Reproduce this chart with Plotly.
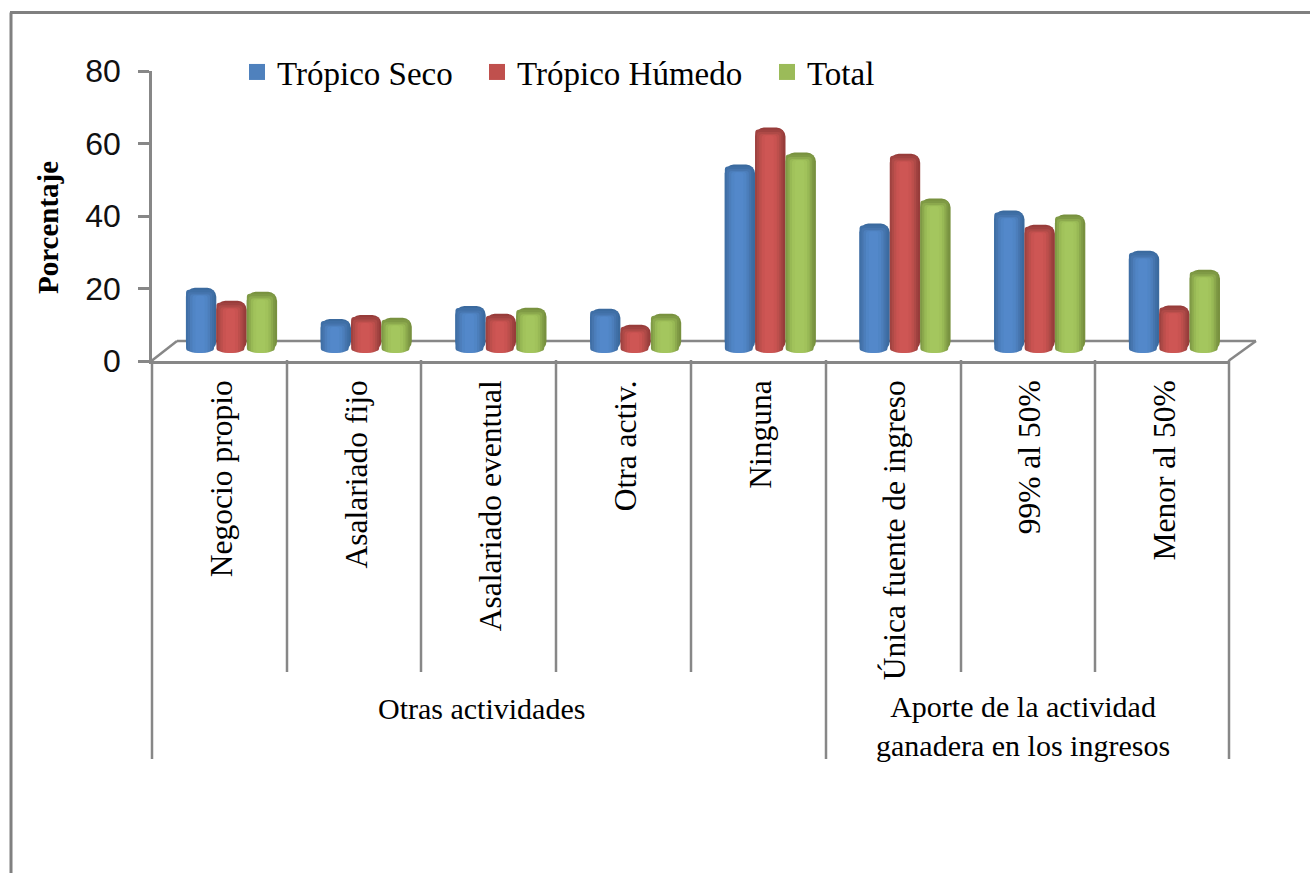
import plotly.graph_objects as go

categories = ["Negocio propio", "Asalariado fijo", "Asalariado eventual", "Otra activ.",
              "Ninguna", "Única fuente de ingreso", "99% al 50%", "Menor al 50%"]
tropico_seco = [18.0, 9.4, 13.0, 12.2, 52.0, 35.7, 39.3, 28.2]
tropico_humedo = [14.4, 10.5, 10.8, 7.8, 62.2, 55.0, 35.4, 13.1]
total = [16.9, 9.7, 12.5, 10.8, 55.3, 42.6, 38.2, 23.0]
group_labels = ["Otras actividades", "Aporte de la actividad<br>ganadera en los ingresos"]
y_ticks = [0, 20, 40, 60, 80]

W, H = 1310, 873
L, R, T, B = 152, 1229, 71, 361
PXU = (B - T) / 80
def px(x): return (x - L) / (R - L)
def py(y): return (B - y) / (B - T)

SERIF = "Liberation Serif"
GRAY = "#878787"

series = [
    ("Trópico Seco", tropico_seco, ["#3B6A9E", "#3F6FA6", "#4675AE", "#4C7EBB", "#5085C5", "#5388CA"], "#4F81BD", 237),
    ("Trópico Húmedo", tropico_humedo, ["#973C3A", "#A04240", "#AE4A47", "#BD4F4C", "#C95351", "#CE5654"], "#C0504D", 477),
    ("Total", total, ["#78913F", "#7F9A45", "#8CA94D", "#98B955", "#A1C25B", "#A4C65E"], "#9BBB59", 767),
]
# cylinder shading: width fraction, cap inset px, base lift px
layers = [(1.00, 0.0, 2.5), (0.92, 2.0, 2.0), (0.80, 4.5, 1.2), (0.66, 6.5, 0.6), (0.50, 7.5, 0.2), (0.30, 8.0, 0.0)]

BASE_PX = 353
SPACING = 134.7
BAR_PX = 30.4
X0 = 231.5
bw = BAR_PX / SPACING

fig = go.Figure()
# invisible trace that carries the visible category and value axes
fig.add_trace(go.Scatter(x=categories, y=[0] * 8, mode="markers", marker=dict(opacity=0),
                         showlegend=False, hoverinfo="skip", xaxis="x", yaxis="y"))

idx = list(range(8))
legends = {}
for s, (name, vals, cols, legcol, legx) in enumerate(series):
    for k, (wf, cap, lift) in enumerate(layers):
        w = bw * wf
        cap_u, lift_u = cap / PXU, lift / PXU
        fig.add_trace(go.Bar(
            x=idx,
            y=[v - cap_u - lift_u for v in vals],
            base=[lift_u] * 8,
            width=[w] * 8,
            offset=[(s - 1.5) * bw + (bw - w) / 2 - 0.008 * (k > 0)] * 8,
            marker=dict(color=cols[k], line=dict(width=0), cornerradius=9 if k == 0 else 3),
            name=name,
            legendgroup=name,
            showlegend=False,
            xaxis="x2", yaxis="y2",
        ))
    lname = "legend" if s == 0 else f"legend{s + 1}"
    fig.add_trace(go.Scatter(x=[None], y=[None], mode="markers", name=name, legendgroup=name, legend=lname,
                             marker=dict(color=legcol, symbol="square", size=16), xaxis="x2", yaxis="y2"))
    legends[lname] = dict(orientation="h", x=px(legx), y=py(72), xanchor="left", yanchor="middle",
                          font=dict(family=SERIF, size=33, color="#000"), bgcolor="rgba(0,0,0,0)",
                          itemwidth=30, itemsizing="trace")

shapes = []
def line(x0, y0, x1, y1, color=GRAY, width=2.5):
    shapes.append(dict(type="line", xref="paper", yref="paper", x0=px(x0), y0=py(y0), x1=px(x1), y1=py(y1),
                       line=dict(color=color, width=width), layer="below"))
line(11, 873, 11, 12.5, "#808080", 3)
line(10, 12.5, 1310, 12.5, "#808080", 3)
line(152, 360.5, 177, 341)
line(177, 341, 1256, 341)
line(1256, 341, 1229, 360.5)
for x in [152, 826, 1229]:
    line(x, 360, x, 759)
for x in [287, 421, 556, 691, 961, 1095]:
    line(x, 360, x, 672)

annotations = [
    dict(text="<b>Porcentaje</b>", xref="paper", yref="paper", x=px(48), y=py(228), textangle=-90, showarrow=False,
         font=dict(family=SERIF, size=29, color="#000"), xanchor="center", yanchor="middle"),
    dict(text=group_labels[0], xref="paper", yref="paper", x=px(481), y=py(708), showarrow=False,
         font=dict(family=SERIF, size=30, color="#000"), xanchor="center", yanchor="middle"),
    dict(text=group_labels[1], xref="paper", yref="paper", x=px(1023), y=py(726), showarrow=False,
         font=dict(family=SERIF, size=30, color="#000"), xanchor="center", yanchor="middle"),
]

fig.update_layout(
    width=W, height=H,
    margin=dict(l=L, r=W - R, t=T, b=H - B, autoexpand=False),
    paper_bgcolor="white", plot_bgcolor="rgba(0,0,0,0)",
    barmode="overlay",
    showlegend=True,
    hovermode=False,
    xaxis=dict(type="category", categoryorder="array", categoryarray=categories,
               range=[-0.52, 7.48], tickangle=-90, ticks="", ticklabelstandoff=4,
               tickfont=dict(family=SERIF, size=31.5, color="#000"),
               showgrid=False, zeroline=False, showline=True, linecolor=GRAY, linewidth=2.5,
               anchor="y", domain=[0, 1]),
    yaxis=dict(range=[0, 80], tickvals=y_ticks, ticks="outside", ticklen=11, tickwidth=2.5, tickcolor=GRAY,
               ticklabelstandoff=11,
               tickfont=dict(family="Liberation Sans", size=32, color="#111"),
               showgrid=False, zeroline=False, showline=True, linecolor=GRAY, linewidth=2.5, anchor="x"),
    xaxis2=dict(range=[(L - X0) / SPACING, (R - X0) / SPACING], overlaying="x", visible=False, anchor="y2"),
    yaxis2=dict(range=[(BASE_PX - B) / PXU, (BASE_PX - T) / PXU], overlaying="y", visible=False, anchor="x2"),
    shapes=shapes,
    annotations=annotations,
    **legends,
)

fig.write_html("out.html", config=dict(displayModeBar=False),
               post_script="document.body.style.margin='0';document.body.style.overflow='hidden';")
